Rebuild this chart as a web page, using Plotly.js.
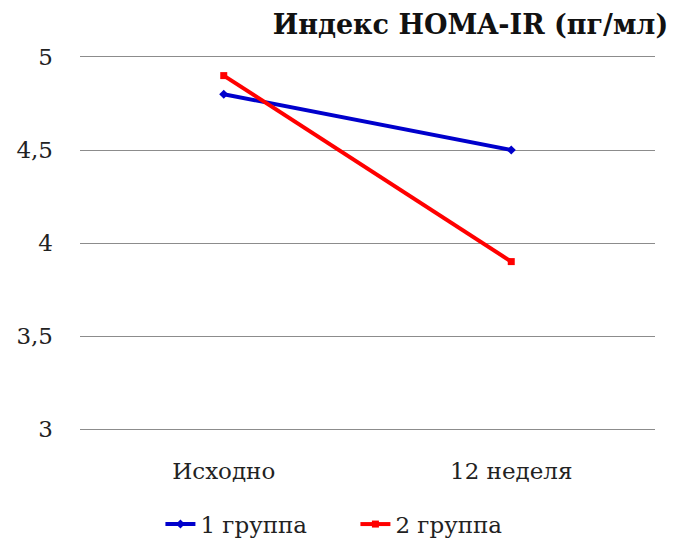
<!DOCTYPE html>
<html><head><meta charset="utf-8">
<script src="https://cdn.plot.ly/plotly-3.0.1.min.js"></script>
<style>html,body{margin:0;padding:0;background:#fff}</style>
</head><body>
<div id="chart" style="width:677px;height:542px"></div>
<script>
const categories = ["Исходно", "12 неделя"];
const group1 = [4.8, 4.5];
const group2 = [4.9, 3.9];
const seriesNames = ["1 группа", "2 группа"];
const yTicks = [3, 3.5, 4, 4.5, 5];
const yTickLabels = ["3", "3,5", "4", "4,5", "5"];

const font = "DejaVu Serif";
const traces = [
  {x: categories, y: group1, name: seriesNames[0], type: "scatter", mode: "lines+markers",
   line: {color: "#0000CC", width: 4}, marker: {symbol: "diamond", size: 7, color: "#0000CC"}},
  {x: categories, y: group2, name: seriesNames[1], type: "scatter", mode: "lines+markers",
   line: {color: "#FF0000", width: 4}, marker: {symbol: "square", size: 7, color: "#FF0000"}}
];
const layout = {
  width: 677, height: 542,
  margin: {l: 80, r: 22, t: 57, b: 113},
  paper_bgcolor: "#fff", plot_bgcolor: "#fff",
  font: {family: font, size: 23, color: "#222"},
  title: {text: "<b>Индекс HOMA-IR (пг/мл)</b>", x: 0.987, xanchor: "right", y: 0.955, yanchor: "middle",
          font: {family: font, size: 27, color: "#111"}},
  xaxis: {type: "category", range: [-0.5, 1.5], showgrid: false, zeroline: false,
          showline: true, mirror: true, linecolor: "#8c8c8c", linewidth: 1,
          ticks: "", ticklabelstandoff: 21, tickfont: {family: font, size: 23, color: "#222"}},
  yaxis: {range: [3, 5], tickvals: yTicks, ticktext: yTickLabels, showgrid: true, gridcolor: "#8c8c8c",
          gridwidth: 1, zeroline: false, showline: false, ticks: "", ticklabelstandoff: 26,
          tickfont: {family: font, size: 23, color: "#222"}},
  showlegend: true,
  legend: {orientation: "h", xref: "container", x: 0.525, xanchor: "center", yref: "container", y: 0.033, yanchor: "middle",
           font: {family: font, size: 23, color: "#222"}, tracegroupgap: 0, entrywidth: 150}
};
Plotly.newPlot("chart", traces, layout, {displayModeBar: false});
</script>
</body></html>
